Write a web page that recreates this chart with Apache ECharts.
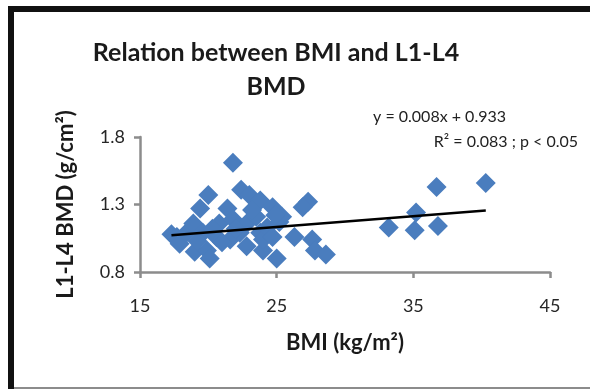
<!DOCTYPE html>
<html><head><meta charset="utf-8">
<script src="https://cdn.jsdelivr.net/npm/echarts@6/dist/echarts.min.js"></script>
<style>html,body{margin:0;padding:0;background:#fff}#c{width:590px;height:389px}</style>
</head><body><div id="c"></div>
<script>
const bmi = [17.3,17.7,17.9,18.4,18.9,19.0,19.4,19.6,19.9,20.0,20.1,20.6,20.8,21.4,21.6,21.8,21.8,22.3,22.4,22.8,22.8,23.0,23.5,23.8,23.8,24.0,24.0,24.3,24.7,24.7,25.0,25.2,25.4,26.3,27.3,27.6,27.8,28.6,33.2,35.1,35.2,36.7,36.8,40.3,21.0,23.2,22.0,24.9,26.9,19.2,20.3];
const bmd = [1.08,1.06,1.01,1.09,1.16,0.95,1.27,1.09,0.96,1.37,0.90,1.06,1.16,1.27,1.04,1.19,1.61,1.09,1.41,0.99,1.16,1.37,1.21,1.33,1.09,0.96,1.04,1.13,1.28,1.06,0.90,1.17,1.21,1.06,1.32,1.04,0.96,0.93,1.13,1.11,1.24,1.43,1.14,1.46,1.02,1.26,1.12,1.22,1.28,1.03,1.12];
const xTicks = [15,25,35,45];
const yTicks = [0.8,1.3,1.8];
const slope = 0.008, intercept = 0.933;
const trendX = [17.3, 40.3];
const titleText = 'Relation between BMI and L1-L4\nBMD';
const eqText = 'y = 0.008x + 0.933';
const r2Text = 'R² = 0.083 ; p < 0.05';

const chart = echarts.init(document.getElementById('c'), null, {renderer:'canvas'});
const pts = bmi.map((x,i)=>[x,bmd[i]]);
const trend = trendX.map(x=>[x, slope*x+intercept]);
const font = 'Lato, "Open Sans", sans-serif';
chart.setOption({
  animation:false,
  backgroundColor:'#fff',
  title:{text:titleText,left:271,top:31,textAlign:'center',
    textStyle:{fontFamily:font,fontWeight:'bold',fontSize:25,color:'#1a1a1a',lineHeight:34}},
  grid:{left:140,right:40,top:137,bottom:117},
  xAxis:{type:'value',min:15,max:45,interval:10,
    name:'BMI (kg/m²)',nameLocation:'middle',nameGap:60,
    nameTextStyle:{fontFamily:font,fontWeight:'bold',fontSize:22,color:'#1a1a1a'},
    axisLine:{lineStyle:{color:'#8c8c8c',width:2.5}},
    axisTick:{show:true,length:6,lineStyle:{color:'#8c8c8c',width:2.5}},
    axisLabel:{fontFamily:font,fontSize:18,color:'#262626',margin:25,
      formatter:v=>xTicks.includes(v)?String(v):''},
    splitLine:{show:false}},
  yAxis:{type:'value',min:0.8,max:1.8,interval:0.5,
    name:'L1-L4 BMD (g/cm²)',nameLocation:'middle',nameGap:63,nameRotate:90,
    nameTextStyle:{fontFamily:font,fontWeight:'bold',fontSize:22,color:'#1a1a1a'},
    axisLine:{show:true,lineStyle:{color:'#8c8c8c',width:2.5}},
    axisTick:{show:true,length:6,lineStyle:{color:'#8c8c8c',width:2.5}},
    axisLabel:{fontFamily:font,fontSize:18,color:'#262626',margin:15,
      formatter:v=>{const t=yTicks.find(y=>Math.abs(y-v)<1e-9);return t!==undefined?t.toFixed(1):'';}},
    splitLine:{show:false}},
  graphic:[
    {type:'rect',shape:{x:8,y:6,width:6,height:383},style:{fill:'#111'}},
    {type:'rect',shape:{x:8,y:6,width:582,height:6},style:{fill:'#111'}},
    {type:'rect',shape:{x:14,y:387,width:576,height:2},style:{fill:'#8c8c8c'}},
    {type:'text',x:506,y:117,style:{text:eqText,textAlign:'right',textVerticalAlign:'middle',font:'16px '+font,fill:'#222'}},
    {type:'text',x:578,y:142,style:{text:r2Text,textAlign:'right',textVerticalAlign:'middle',font:'16px '+font,fill:'#222'}}
  ],
  series:[
    {type:'scatter',data:pts,symbol:'diamond',symbolSize:20,
      itemStyle:{color:'#4a7dbe',opacity:1},z:2},
    {type:'line',data:trend,symbol:'none',lineStyle:{color:'#000',width:2.5},z:3}
  ]
});
</script></body></html>
